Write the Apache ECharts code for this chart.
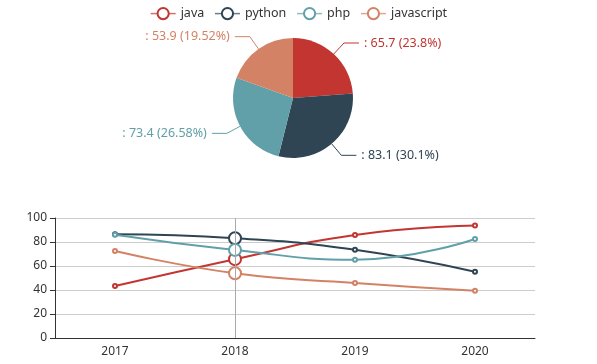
<!DOCTYPE html>
<html><head><meta charset="utf-8">
<script src="https://cdn.jsdelivr.net/npm/echarts@6/dist/echarts.min.js"></script>
<style>html,body{margin:0;padding:0;background:#fff}#c{width:597px;height:364px}</style>
</head><body><div id="c"></div>
<script>
var years = ['2017', '2018', '2019', '2020'];
var seriesNames = ['java', 'python', 'php', 'javascript'];
var java = [43.3, 65.7, 85.9, 93.8];
var python = [86.4, 83.1, 73.5, 55.2];
var php = [86.1, 73.4, 65.3, 82.5];
var javascript = [72.5, 53.9, 45.8, 39.3];
var yTicks = [0, 20, 40, 60, 80, 100];
var colors = ['#c23531', '#2f4554', '#61a0a8', '#d48265'];
var allValues = [java, python, php, javascript];
var focusIndex = 1;

var font = 'Noto Sans';
var chart = echarts.init(document.getElementById('c'));
var lineSeries = seriesNames.map(function (n, k) {
  return {
    type: 'line', name: n, smooth: true,
    symbol: 'emptyCircle', symbolSize: 4,
    lineStyle: { width: 2 },
    data: allValues[k].map(function (v, i) {
      return i === focusIndex ? { value: v, symbolSize: 12 } : v;
    })
  };
});
var pieData = seriesNames.map(function (n, k) {
  return { name: n, value: allValues[k][focusIndex], label: { color: colors[k] } };
});
chart.setOption({
  animation: false,
  color: colors,
  textStyle: { fontFamily: font },
  legend: {
    top: 2, itemGap: 10, itemWidth: 25, itemHeight: 14,
    lineStyle: { width: 1.5, opacity: 0.7 },
    textStyle: { fontSize: 12.5, color: '#333', fontFamily: font },
    data: seriesNames
  },
  grid: { left: 55, right: 62, top: 218, bottom: 26 },
  xAxis: {
    type: 'category', data: years, boundaryGap: true,
    axisLine: { lineStyle: { color: '#333' } },
    axisTick: { lineStyle: { color: '#333' } },
    axisLabel: { color: '#333', fontSize: 12, fontFamily: font },
    axisPointer: { show: true, value: years[focusIndex], status: 'show', type: 'line', label: { show: false }, lineStyle: { color: '#aaa', width: 1, type: 'solid' } }
  },
  yAxis: {
    type: 'value', min: 0, max: 100, interval: 20,
    axisLine: { show: true, lineStyle: { color: '#333' } },
    axisTick: { show: true, lineStyle: { color: '#333' } },
    axisLabel: { color: '#333', fontSize: 12, fontFamily: font },
    splitLine: { lineStyle: { color: '#ccc' } }
  },
  series: lineSeries.concat([{
    type: 'pie', center: [293, 98], radius: 60,
    startAngle: 90, clockwise: true,
    label: {
      formatter: function (p) { return ': ' + p.value + ' (' + p.percent + '%)'; },
      fontSize: 12.5, fontFamily: font
    },
    labelLine: { length: 15, length2: 15 },
    data: pieData
  }])
});
</script></body></html>
